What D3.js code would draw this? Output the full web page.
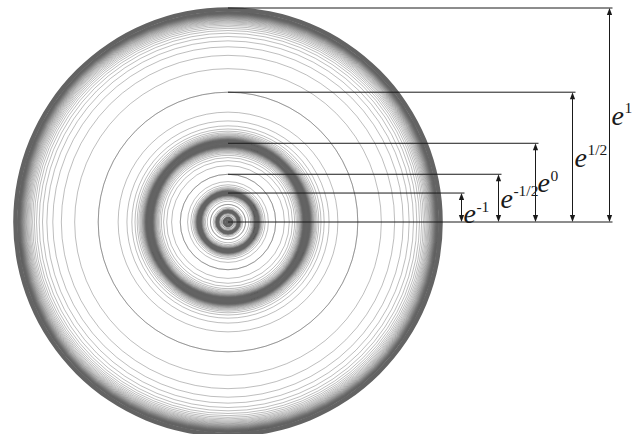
<!DOCTYPE html>
<html><head><meta charset="utf-8">
<script src="https://cdn.jsdelivr.net/npm/d3@7"></script>
<style>html,body{margin:0;padding:0;background:#fff;} svg{display:block;}</style>
</head><body>
<svg id="chart" width="635" height="434"></svg>
<script>
// Integer exponents m: circles accumulate toward radius e^m
const levels = [-4, -3, -2, -1, 0, 1];
// Circles are drawn at radius e^(m - 1/n) and e^(m + 1/n)
const denominators = [2,3,4,5,6,7,8,9,10,11,12,13,14,15,16,17,18,19,20,21,22,23,24,25,26,27,28,29,30,
  31,32,33,34,35,36,37,38,39,40,41,42,43,44,45,46,47,48,49,50,51,52,53,54,55,56,57,58,59,60];
// Annotated radii e^k
const markExponents = [-1, -0.5, 0, 0.5, 1];
const markLabels = ["-1", "-1/2", "0", "1/2", "1"];
const maxExponent = 1;

const svg = d3.select("#chart");
const cx = 228, cy = 222;
const r = d3.scaleLinear().domain([0, Math.E]).range([0, 214]);
const xArrow = d3.scalePoint().domain(markExponents).range([461.5, 609.5]);
const lineEnd = xArrow(maxExponent) + 3;

// circles
const circleExps = [];
levels.forEach(m => denominators.forEach(n => {
  circleExps.push(m - 1 / n);
  if (m < maxExponent) circleExps.push(m + 1 / n);
}));

const ringColor = "#636363";
const g = svg.append("g").attr("transform", `translate(${cx},${cy})`);
g.selectAll("circle.ring").data(circleExps).join("circle")
  .attr("class", "ring")
  .attr("r", d => r(Math.exp(d)))
  .attr("fill", "none")
  .attr("stroke", ringColor)
  .attr("stroke-width", 0.42);

// accumulation bands (limit of the circle families at e^m)
const N = denominators[denominators.length - 1];
const arc = d3.arc().startAngle(0).endAngle(2 * Math.PI);
g.selectAll("path.band").data(levels).join("path")
  .attr("class", "band")
  .attr("d", m => arc({
    innerRadius: r(Math.exp(m - 1 / N)),
    outerRadius: m < maxExponent ? r(Math.exp(m + 1 / N)) : r(Math.exp(m)) + 0.8
  }))
  .attr("fill", ringColor);

// annotation lines
const ann = svg.append("g");
const yOf = k => cy - r(Math.exp(k));
ann.selectAll("line.h").data(markExponents).join("line")
  .attr("x1", cx).attr("x2", d => xArrow(d) + 3)
  .attr("y1", d => yOf(d)).attr("y2", d => yOf(d))
  .attr("stroke", "#1a1a1a").attr("stroke-width", 1);
ann.append("line")
  .attr("x1", cx).attr("x2", lineEnd)
  .attr("y1", cy).attr("y2", cy)
  .attr("stroke", "#1a1a1a").attr("stroke-width", 1);

ann.selectAll("line.v").data(markExponents).join("line")
  .attr("x1", d => xArrow(d)).attr("x2", d => xArrow(d))
  .attr("y1", d => yOf(d) + 3).attr("y2", cy - 3)
  .attr("stroke", "#1a1a1a").attr("stroke-width", 1);

const head = (x, y, dir) => `M${x},${y}L${x - 2.6},${y + dir * 7}L${x + 2.6},${y + dir * 7}Z`;
ann.selectAll("path.top").data(markExponents).join("path")
  .attr("d", d => head(xArrow(d), yOf(d), 1)).attr("fill", "#1a1a1a");
ann.selectAll("path.bot").data(markExponents).join("path")
  .attr("d", d => head(xArrow(d), cy, -1)).attr("fill", "#1a1a1a");

// labels
const labels = ann.selectAll("text.lab").data(markExponents).join("text")
  .attr("x", d => xArrow(d) + 2)
  .attr("y", d => {
    const top = yOf(d), mid = (top + cy) / 2;
    return Math.max(mid + 9.5, top + 30);
  })
  .attr("font-family", "'Liberation Serif', 'Times New Roman', serif")
  .attr("fill", "#1a1a1a");
labels.append("tspan").attr("font-style", "italic").attr("font-size", 28).text("e");
labels.append("tspan").attr("font-size", 15.5).attr("dy", -11.5).attr("dx", 0.5)
  .text((d, i) => markLabels[i]);
</script>
</body></html>
